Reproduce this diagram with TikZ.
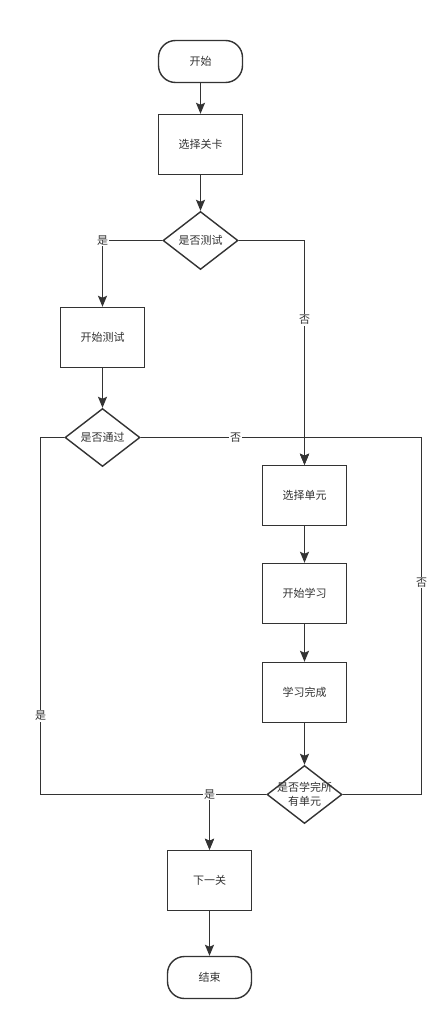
\documentclass[tikz,border=0pt]{standalone}
\usepackage{fontspec}
\setmainfont{Noto Sans CJK SC}
\usetikzlibrary{shapes.geometric,arrows.meta}
\definecolor{lc}{HTML}{333333}
\tikzset{
  box/.style={draw=lc, line width=1.4pt, minimum width=84pt, minimum height=60pt, inner sep=0pt, text=lc, font=\fontsize{11}{14}\selectfont},
  term/.style={box, rounded corners=17pt, minimum height=42pt},
  dec/.style={diamond, draw=lc, line width=1.4pt, minimum width=75pt, minimum height=58pt, inner sep=0pt, label distance=0pt},
  dtext/.style={text=lc, font=\fontsize{11}{14}\selectfont, align=center, inner sep=0pt},
  arr/.style={draw=lc, line width=1.4pt, -{Stealth[length=11pt,width=9pt,inset=2pt]}},
  lab/.style={fill=white, text=lc, inner sep=1pt, font=\fontsize{11}{13}\selectfont}
}
\begin{document}
\begin{tikzpicture}[x=1pt,y=-1pt]
\useasboundingbox[fill=white] (0,0) rectangle (447,1024);
\node[term] (start) at (200.5,61.5) {开始};
\node[box] (s1) at (200.5,144.5) {选择关卡};
\node[dec, label={[dtext]center:是否测试}] (d1) at (200.5,240.5) {};
\node[box] (t1) at (102.5,337.5) {开始测试};
\node[dec, label={[dtext]center:是否通过}] (d2) at (102.5,437.5) {};
\node[box] (u1) at (304.5,495.5) {选择单元};
\node[box] (u2) at (304.5,593.5) {开始学习};
\node[box] (u3) at (304.5,692.5) {学习完成};
\node[dec, label={[dtext]center:{是否学完所\\有单元}}] (d4) at (304.5,794.5) {};
\node[box] (n1) at (209.5,880.5) {下一关};
\node[term] (end) at (209.5,977.5) {结束};
\coordinate (c1) at (421.5,437.5);
\coordinate (c2) at (40.5,794.5);

\draw[arr] (start) -- (s1);
\draw[arr] (s1) -- (d1);
\draw[arr] (d1.west) -| node[lab, pos=0.5]{是} (t1.north);
\draw[arr] (d1.east) -| node[lab, pos=0.677]{否} (u1.north);
\draw[arr] (t1) -- (d2);
\draw[arr] (d2.east) -| node[lab, pos=0.29]{否} (u1.north);
\draw[arr] (d4.east) -| node[lab, pos=0.797]{否} (c1) -| (u1.north);
\draw[arr] (d2.west) -| node[lab, pos=0.89]{是} (c2) -| (n1.north);
\draw[arr] (d4.west) -| node[lab, pos=0.5]{是} (n1.north);
\draw[arr] (u1) -- (u2);
\draw[arr] (u2) -- (u3);
\draw[arr] (u3) -- (d4);
\draw[arr] (n1) -- (end);
\end{tikzpicture}
\end{document}
